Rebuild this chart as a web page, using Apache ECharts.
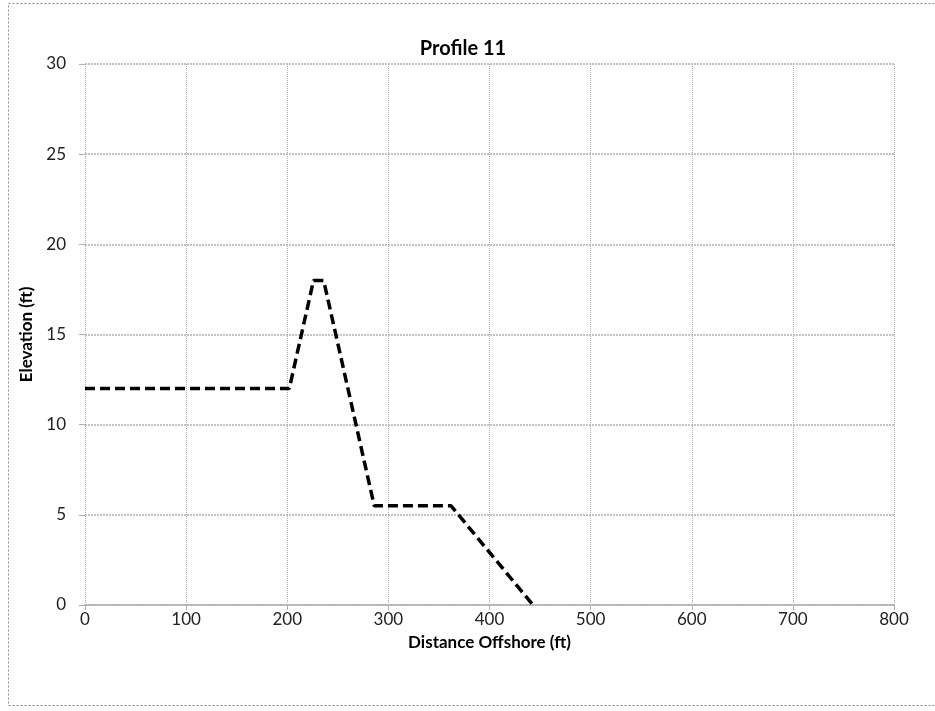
<!DOCTYPE html>
<html>
<head>
<meta charset="utf-8">
<script src="https://cdn.jsdelivr.net/npm/echarts@6/dist/echarts.min.js"></script>
<style>
  html, body { margin: 0; padding: 0; background: #fff; }
  #chart { width: 935px; height: 711px; }
</style>
</head>
<body>
<div id="chart"></div>
<script>
// profile points
var distance = [0, 202, 226, 236, 286, 362, 443];
var elevation = [12, 12, 18, 18, 5.5, 5.5, 0];

var xTicks = [0, 100, 200, 300, 400, 500, 600, 700, 800];
var yTicks = [0, 5, 10, 15, 20, 25, 30];

var font = "Lato, 'Open Sans', sans-serif";
var gridColor = "#b0b0b0";

var points = distance.map(function(d, i) {
  return [d, elevation[i]];
});

var chart = echarts.init(document.getElementById("chart"));

var option = {
  backgroundColor: "#fff",
  animation: false,
  title: {
    text: "Profile 11",
    left: 458,
    top: 34,
    textAlign: "center",
    textStyle: { fontFamily: font, fontSize: 20, fontWeight: "bold", color: "#000" }
  },
  graphic: [
    {
      type: "rect",
      shape: { x: 8.5, y: 3.5, width: 930, height: 702 },
      style: { fill: null, stroke: "#8a8a8a", lineWidth: 1, lineDash: [2, 2] },
      silent: true
    }
  ],
  grid: { left: 85, right: 41, top: 64, bottom: 106 },
  xAxis: {
    type: "value",
    min: xTicks[0],
    max: xTicks[xTicks.length - 1],
    interval: 100,
    name: "Distance Offshore (ft)",
    nameLocation: "middle",
    nameGap: 29,
    nameTextStyle: { fontFamily: font, fontSize: 17, fontWeight: "bold", color: "#000" },
    axisLine: { show: true, lineStyle: { color: gridColor, width: 1.5 } },
    axisTick: { show: true, length: 5, lineStyle: { color: gridColor } },
    axisLabel: { fontFamily: font, fontSize: 17, color: "#222", margin: 6 },
    splitLine: { show: true, lineStyle: { color: gridColor, width: 1, type: [1, 1] } }
  },
  yAxis: {
    type: "value",
    min: yTicks[0],
    max: yTicks[yTicks.length - 1],
    interval: 5,
    name: "Elevation (ft)",
    nameLocation: "middle",
    nameGap: 50,
    nameTextStyle: { fontFamily: font, fontSize: 17, fontWeight: "bold", color: "#000" },
    axisLine: { show: false },
    axisTick: { show: true, length: 6, lineStyle: { color: gridColor } },
    axisLabel: { fontFamily: font, fontSize: 17, color: "#222", margin: 19 },
    splitLine: { show: true, lineStyle: { color: gridColor, width: 1.5, type: [2, 1] } }
  },
  series: [
    {
      type: "line",
      data: points,
      symbol: "none",
      lineStyle: { color: "#000", width: 3.5, type: [10, 5] }
    }
  ]
};

chart.setOption(option);
</script>
</body>
</html>
